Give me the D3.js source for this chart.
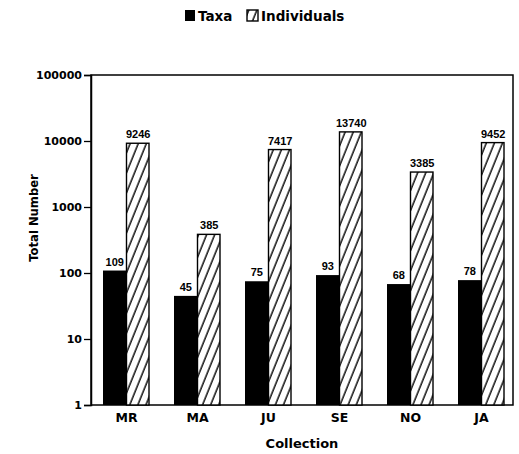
<!DOCTYPE html>
<html><head><meta charset="utf-8">
<script src="https://cdn.jsdelivr.net/npm/d3@7"></script>
<style>body{margin:0;background:#fff}svg{display:block}text{font-family:"DejaVu Sans",sans-serif;font-weight:bold;fill:#000}</style>
</head><body><svg id="c" width="519" height="454"></svg>
<script>
const categories = ["MR","MA","JU","SE","NO","JA"];
const taxa = [109,45,75,93,68,78];
const individuals = [9246,385,7417,13740,3385,9452];
const yTicks = [1,10,100,1000,10000,100000];
const seriesNames = ["Taxa","Individuals"];

const svg = d3.select("#c");
const L=91,R=513,T=75,B=405;
const defs = svg.append("defs");
const pat = defs.append("pattern").attr("id","hatch").attr("patternUnits","userSpaceOnUse")
  .attr("width",7.5).attr("height",10).attr("patternTransform","rotate(22)");
pat.append("rect").attr("width",7.5).attr("height",10).attr("fill","#fff");
pat.append("line").attr("x1",2).attr("x2",2).attr("y1",0).attr("y2",10).attr("stroke","#000").attr("stroke-width",1.4);

const x = d3.scaleBand().domain(categories).range([91,517]).padding(0);
const y = d3.scaleLog().domain([1,100000]).range([B,T]);
const bw = 23.5;

svg.append("rect").attr("x",L).attr("y",T).attr("width",R-L).attr("height",B-T).attr("fill","none").attr("stroke","#000").attr("stroke-width",1.5);

const ya = svg.append("g").attr("transform",`translate(${L},0)`)
  .call(d3.axisLeft(y).tickValues(yTicks).tickFormat(d3.format("d")).tickSize(7).tickPadding(2));
ya.select(".domain").attr("stroke-width",1.5);
ya.selectAll(".tick line").attr("stroke-width",1.3);
ya.selectAll("text").style("font-family","DejaVu Sans").style("font-size","11px").style("font-weight","bold").attr("fill","#000");

const xa = svg.append("g").attr("transform",`translate(0,${B})`)
  .call(d3.axisBottom(x).tickSize(0).tickPadding(8));
xa.select(".domain").remove();
xa.selectAll("text").style("font-family","DejaVu Sans").style("font-size","12.5px").style("font-weight","bold").attr("fill","#000");

const data = categories.map((c,i)=>({c,t:taxa[i],n:individuals[i]}));
const g = svg.append("g");
g.selectAll(".tb").data(data).join("rect")
  .attr("x",d=>x(d.c)+x.bandwidth()/2-bw).attr("width",bw)
  .attr("y",d=>y(d.t)).attr("height",d=>B-y(d.t)).attr("fill","#000");
g.selectAll(".ib").data(data).join("rect")
  .attr("x",d=>x(d.c)+x.bandwidth()/2).attr("width",bw-1)
  .attr("y",d=>y(d.n)).attr("height",d=>B-y(d.n)).attr("fill","url(#hatch)").attr("stroke","#000").attr("stroke-width",1.4);
g.selectAll(".tl").data(data).join("text")
  .attr("x",d=>x(d.c)+x.bandwidth()/2-bw/2).attr("y",d=>y(d.t)-5)
  .attr("text-anchor","middle").style("font-family","Liberation Sans").style("font-size","11px").text(d=>d.t);
g.selectAll(".il").data(data).join("text")
  .attr("x",d=>x(d.c)+x.bandwidth()/2+bw/2).attr("y",d=>y(d.n)-5)
  .attr("text-anchor","middle").style("font-family","Liberation Sans").style("font-size","11px").text(d=>d.n);

svg.append("text").attr("x",(L+R)/2).attr("y",448).attr("text-anchor","middle").style("font-size","13px").text("Collection");
svg.append("text").attr("transform",`translate(38,218) rotate(-90)`).attr("text-anchor","middle").style("font-size","11.6px").text("Total Number");

const lg = svg.append("g");
lg.append("rect").attr("x",185).attr("y",10).attr("width",10).attr("height",11).attr("fill","#000");
lg.append("text").attr("x",198).attr("y",21).style("font-size","13.5px").text(seriesNames[0]);
lg.append("rect").attr("x",247).attr("y",10).attr("width",11).attr("height",11).attr("fill","url(#hatch)").attr("stroke","#000").attr("stroke-width",1.4);
lg.append("text").attr("x",261).attr("y",21).style("font-size","13.5px").text(seriesNames[1]);
</script></body></html>
